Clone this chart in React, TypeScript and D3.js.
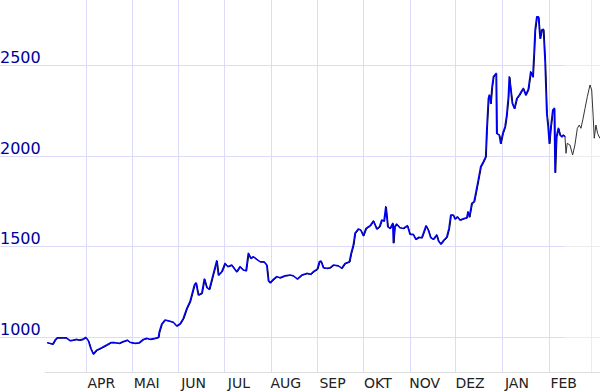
import React from 'react';
import * as d3 from 'd3';

const START = new Date(Date.UTC(2020, 2, 6));
const END = new Date(Date.UTC(2021, 2, 7));

// day offsets from START and values (blue main series)
const mainDays = [
  0, 3.8, 5.3, 6.8, 10.4, 12.6, 15.2, 17.4, 19.2, 21.4, 23.6, 25.6, 27.3, 28.9, 30.6, 32.9, 36.2, 39.5, 42.2, 45.0,
  47.7, 50.1, 53.1, 54.9, 58.2, 61.1, 63.7, 66.0, 68.2, 71.5, 73.7, 74.3, 75.9, 78.1, 80.3, 83.6, 85.8, 88.0, 90.2, 92.5,
  94.6, 97.5, 98.6, 100.1, 102.4, 104.1, 105.7, 107.4, 110.1, 112.3, 113.4, 115.6, 117.8, 119.6, 122.2, 125.5, 127.7, 129.9, 131.7, 133.2,
  134.8, 136.5, 138.8, 141.0, 143.6, 145.4, 146.5, 147.6, 149.8, 152.0, 154.2, 157.5, 160.8, 163.0, 165.6, 168.6, 171.9, 174.5, 176.2, 178.9,
  180.2, 181.3, 182.9, 185.1, 187.3, 189.5, 192.8, 195.0, 197.2, 200.1, 201.2, 202.7, 203.8, 206.0, 207.6, 209.3, 211.1, 213.8, 216.0, 218.2,
  220.0, 221.5, 223.0, 224.2, 225.5, 227.0, 228.8, 229.2, 230.1, 231.4, 233.6, 235.8, 238.5, 240.2, 242.4, 244.0, 246.2, 248.0, 250.8, 252.3,
  253.9, 255.7, 257.9, 259.0, 260.6, 262.7, 264.5, 266.0, 267.2, 268.9, 270.0, 271.6, 273.3, 276.0, 277.8, 278.6, 279.5, 281.1, 282.6, 283.9,
  285.4, 287.0, 288.8, 290.3, 291.0, 292.1, 292.7, 293.6, 294.5, 295.4, 297.2, 297.6, 299.3, 300.2, 301.6, 303.1, 304.2, 305.3, 305.9, 306.9,
  307.9, 309.3, 310.9, 312.6, 314.2, 315.2, 316.8, 318.5, 320.1, 321.5, 322.3, 323.0, 324.1, 325.2, 326.3, 327.4, 328.5, 329.6, 330.7, 331.6,
  332.4, 333.4, 334.7, 335.7, 336.2, 337.1, 338.4, 339.5, 340.6, 341.7, 342.8,
];
const mainValues = [
  969, 961, 983, 996, 996, 996, 980, 983, 987, 983, 987, 998, 980, 938, 906, 928, 941, 956, 969, 969,
  965, 974, 983, 971, 965, 969, 987, 993, 987, 993, 998, 1029, 1072, 1094, 1090, 1081, 1061, 1072, 1103, 1158,
  1195, 1287, 1299, 1232, 1241, 1320, 1274, 1263, 1351, 1421, 1342, 1360, 1406, 1388, 1397, 1360, 1388, 1369, 1366, 1462,
  1434, 1443, 1428, 1415, 1415, 1397, 1310, 1299, 1318, 1333, 1327, 1338, 1342, 1338, 1320, 1342, 1351, 1346, 1360, 1375,
  1415, 1419, 1382, 1379, 1382, 1397, 1393, 1379, 1406, 1415, 1461, 1507, 1572, 1596, 1590, 1559, 1599, 1614, 1640, 1596,
  1608, 1645, 1640, 1719, 1608, 1599, 1627, 1520, 1608, 1623, 1603, 1599, 1614, 1566, 1566, 1539, 1550, 1548, 1614, 1590,
  1548, 1539, 1563, 1531, 1513, 1535, 1550, 1599, 1673, 1673, 1651, 1663, 1645, 1654, 1658, 1691, 1663, 1737, 1746, 1801,
  1866, 1939, 1967, 1994, 2142, 2316, 2335, 2289, 2380, 2435, 2454, 2123, 2114, 2068, 2123, 2160, 2224, 2325, 2435, 2362,
  2289, 2261, 2316, 2335, 2358, 2371, 2335, 2366, 2463, 2435, 2565, 2693, 2766, 2766, 2647, 2693, 2697, 2518, 2234, 2160,
  2068, 2160, 2252, 2261, 1908, 2105, 2151, 2114, 2105, 2114, 2105,
];

// latest stretch drawn in dark grey
const tailDays = [342.8, 343.5, 344.3, 346.1, 347.9, 349.4, 351.0, 352.3, 353.4, 354.6, 356.1, 357.6, 359.4, 360.5, 361.5, 362.2, 363.3, 364.4, 365.9];
const tailValues = [2105, 2013, 2068, 2059, 2004, 2059, 2151, 2169, 2151, 2197, 2261, 2325, 2390, 2362, 2215, 2096, 2169, 2123, 2096];

const yTicks = [1000, 1500, 2000, 2500];
const monthLabels = ['APR', 'MAI', 'JUN', 'JUL', 'AUG', 'SEP', 'OKT', 'NOV', 'DEZ', 'JAN', 'FEB'];
const monthStarts = [
  '2020-04-01', '2020-05-01', '2020-06-01', '2020-07-01', '2020-08-01', '2020-09-01',
  '2020-10-01', '2020-11-01', '2020-12-01', '2021-01-01', '2021-02-01',
];
const futureMonthStarts = ['2021-03-01'];
const splitDay = 342.8;

const W = 600;
const H = 391;

const dayToDate = (d: number) => new Date(START.getTime() + d * 86400000);

export default function App() {
  const x = d3.scaleUtc().domain([START, END]).range([47, 600]);
  const y = d3.scaleLinear().domain([1000, 2500]).range([337, 65]);
  const axisY = 372.5;
  const splitX = x(dayToDate(splitDay));

  const main = mainDays.map((d, i) => ({ date: dayToDate(d), v: mainValues[i] }));
  const tail = tailDays.map((d, i) => ({ date: dayToDate(d), v: tailValues[i] }));
  const line = d3
    .line<{ date: Date; v: number }>()
    .x((p) => x(p.date))
    .y((p) => y(p.v));

  return (
    <svg
      width={W}
      height={H}
      style={{ position: 'fixed', left: 0, top: 0, background: '#fff' }}
      fontFamily="'DejaVu Sans', Verdana, sans-serif"
    >
      {yTicks.map((t) => (
        <g key={t}>
          <line x1={0} x2={splitX} y1={Math.round(y(t)) + 0.5} y2={Math.round(y(t)) + 0.5} stroke="#dcdcfa" />
          <line x1={splitX} x2={W} y1={Math.round(y(t)) + 0.5} y2={Math.round(y(t)) + 0.5} stroke="#ececf0" />
        </g>
      ))}
      {monthStarts.map((m) => {
        const xx = Math.round(x(new Date(m + 'T00:00:00Z'))) + 0.5;
        return <line key={m} x1={xx} x2={xx} y1={0} y2={axisY} stroke="#dcdcfa" />;
      })}
      {futureMonthStarts.map((m) => {
        const xx = Math.round(x(new Date(m + 'T00:00:00Z'))) + 0.5;
        return <line key={m} x1={xx} x2={xx} y1={0} y2={axisY} stroke="#ececf0" />;
      })}
      <line x1={45} x2={W} y1={axisY} y2={axisY} stroke="#dddddd" />
      {yTicks.map((t) => (
        <text key={t} x={0} y={y(t) - 2} fontSize={16} fill="#0000a0">
          {t}
        </text>
      ))}
      {monthLabels.map((lab, i) => {
        const d0 = new Date(monthStarts[i] + 'T00:00:00Z');
        const mid = new Date(d0.getTime() + 10 * 86400000);
        return (
          <text key={lab} x={x(mid)} y={388} fontSize={14} fill="#222" textAnchor="middle">
            {lab}
          </text>
        );
      })}
      <path d={line(main) || ''} fill="none" stroke="#000" strokeWidth={1} transform="translate(0.7,0.4)" />
      <path d={line(main) || ''} fill="none" stroke="#0000f0" strokeWidth={1.5} strokeLinejoin="round" />
      <path d={line(tail) || ''} fill="none" stroke="#333" strokeWidth={1} />
    </svg>
  );
}
